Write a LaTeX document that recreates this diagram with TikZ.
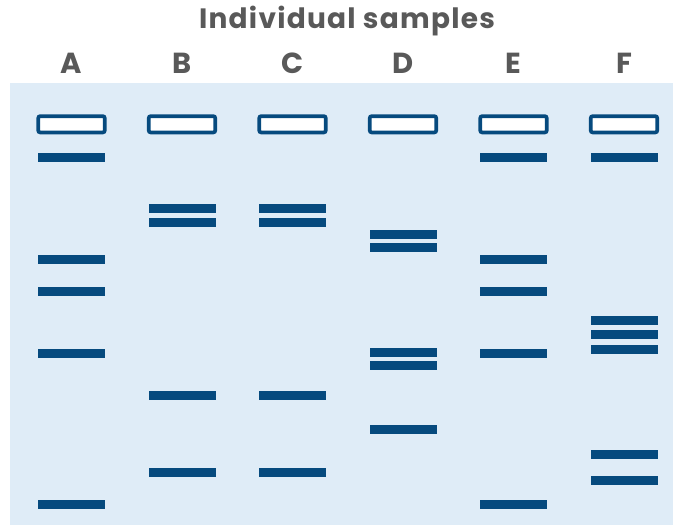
\documentclass[tikz,border=0pt]{standalone}
\usepackage{fontspec}
\setmainfont{Poppins}
\definecolor{gel}{HTML}{DFECF7}
\definecolor{dna}{HTML}{064A7E}
\definecolor{label}{HTML}{595959}
\begin{document}
\begin{tikzpicture}[x=1pt,y=-1pt,
  band/.style={fill=dna,draw=none,minimum width=67pt,minimum height=9pt,inner sep=0pt,outer sep=0pt},
  well/.style={draw=dna,fill=white,line width=3.7pt,rounded corners=2pt,minimum width=66.5pt,minimum height=16.3pt,inner sep=0pt},
  lane/.style={text=label,font=\bfseries\fontsize{29}{29}\selectfont,inner sep=0pt},
  heading/.style={text=label,font=\bfseries\fontsize{28}{28}\selectfont\addfontfeature{LetterSpace=4.5},inner sep=0pt}]
  \useasboundingbox (0,0) rectangle (673,525);
  % gel slab
  \fill[gel] (10,82.7) rectangle (673,525);
  \node[heading] (title) at (347,21) {Individual samples};
  % lanes: label, loading well and bands
  \foreach \n/\x/\bands in {
      A/71.5/{157.5,259.5,291.5,353.5,504.5},
      B/182/{208.5,222.5,395.5,472.5},
      C/292.5/{208.5,222.5,395.5,472.5},
      D/403/{234.5,247.5,352.5,365.5,429.5},
      E/513.5/{157.5,259.5,291.5,353.5,504.5},
      F/624/{157.5,320.5,334.5,349.5,454.5,480.5}} {
    \node[lane] (lbl\n) at (\x,63) {\n};
    \node[well] (well\n) at (\x,124.3) {};
    \foreach \y [count=\k] in \bands
      \node[band] (band\n\k) at (\x,\y) {};
  }
\end{tikzpicture}
\end{document}
